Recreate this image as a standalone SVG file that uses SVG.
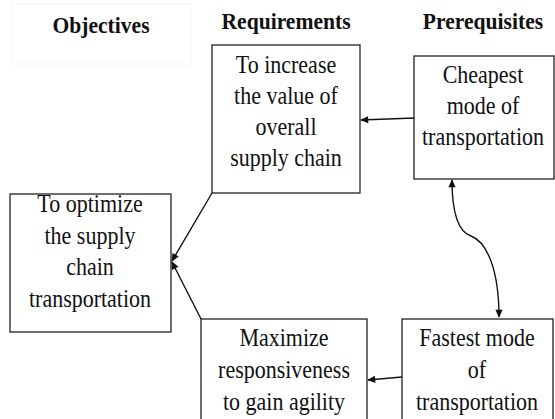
<svg xmlns="http://www.w3.org/2000/svg" width="555" height="419" viewBox="0 0 555 419">
  <style>
    .box { fill: #fff; stroke: #222; stroke-width: 1.3; }
    .hdr { font-family: "Liberation Serif", "Times New Roman", serif; font-size: 21.6px; font-weight: bold; fill: #111; text-anchor: middle; }
    .lbl { font-family: "Liberation Serif", "Times New Roman", serif; font-size: 22px; fill: #111; text-anchor: middle; }
    .edge { fill: none; stroke: #111; stroke-width: 1.4; }
  </style>
  <defs>
    <marker id="arrow" viewBox="0 0 10 10" refX="9" refY="5" markerWidth="9" markerHeight="8" markerUnits="userSpaceOnUse" orient="auto-start-reverse">
      <path d="M0,0.5 L10,5 L0,9.5 z" fill="#111"/>
    </marker>
  </defs>
  <rect width="555" height="419" fill="#fff"/>

  <!-- column headings; text lines are stretched slightly in height -->
  <g id="headings">
    <rect x="12" y="4" width="179" height="60" fill="none" stroke="#f3f3f3" stroke-width="1"/>
    <text class="hdr" transform="translate(101,33) scale(1,1.1)">Objectives</text>
    <text class="hdr" transform="translate(286,29) scale(1,1.1)">Requirements</text>
    <text class="hdr" transform="translate(483,29) scale(1,1.1)">Prerequisites</text>
  </g>

  <g id="optimize">
    <rect class="box" x="10" y="194" width="161" height="138"/>
    <text class="lbl" transform="translate(90,212) scale(1,1.1)">To optimize</text>
    <text class="lbl" transform="translate(90,244) scale(1,1.1)">the supply</text>
    <text class="lbl" transform="translate(90,275) scale(1,1.1)">chain</text>
    <text class="lbl" transform="translate(90,307) scale(1,1.1)">transportation</text>
  </g>

  <g id="increase-value">
    <rect class="box" x="212" y="45" width="148" height="148"/>
    <text class="lbl" transform="translate(286,73) scale(1,1.1)">To increase</text>
    <text class="lbl" transform="translate(286,104) scale(1,1.1)">the value of</text>
    <text class="lbl" transform="translate(286,135) scale(1,1.1)">overall</text>
    <text class="lbl" transform="translate(286,166) scale(1,1.1)">supply chain</text>
  </g>

  <g id="cheapest">
    <rect class="box" x="414" y="56" width="140" height="123"/>
    <text class="lbl" transform="translate(483,83) scale(1,1.1)">Cheapest</text>
    <text class="lbl" transform="translate(483,114) scale(1,1.1)">mode of</text>
    <text class="lbl" transform="translate(483,145) scale(1,1.1)">transportation</text>
  </g>

  <g id="maximize">
    <rect class="box" x="201" y="319" width="166" height="110"/>
    <text class="lbl" transform="translate(284,346) scale(1,1.1)">Maximize</text>
    <text class="lbl" transform="translate(284,378) scale(1,1.1)">responsiveness</text>
    <text class="lbl" transform="translate(284,410) scale(1,1.1)">to gain agility</text>
  </g>

  <g id="fastest">
    <rect class="box" x="402" y="319" width="151" height="110"/>
    <text class="lbl" transform="translate(477,346) scale(1,1.1)">Fastest mode</text>
    <text class="lbl" transform="translate(477,378) scale(1,1.1)">of</text>
    <text class="lbl" transform="translate(477,410) scale(1,1.1)">transportation</text>
  </g>

  <g id="connectors">
    <path class="edge" d="M414,118 L361,120" marker-end="url(#arrow)"/>
    <path class="edge" d="M402,377 L368,380" marker-end="url(#arrow)"/>
    <path class="edge" d="M212,193 L172,261" marker-end="url(#arrow)"/>
    <path class="edge" d="M201,319 L172,262" marker-end="url(#arrow)"/>
    <path class="edge" d="M452,180 C452,215 459,232 471,236 C487,242 499,270 499,317" marker-start="url(#arrow)" marker-end="url(#arrow)"/>
  </g>
</svg>
